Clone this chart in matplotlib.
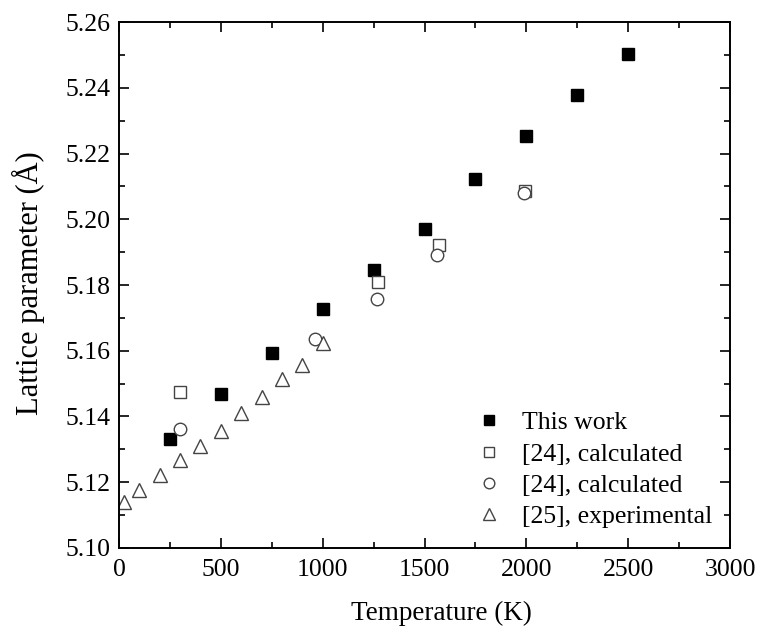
import matplotlib
matplotlib.use("Agg")
import matplotlib.pyplot as plt
from matplotlib.ticker import MultipleLocator, FormatStrFormatter

# ─── data ───────────────────────────────────────────────────────────────────
T_WORK = [250, 500, 750, 1000, 1250, 1500, 1750, 2000, 2250, 2500]
A_WORK = [5.1332, 5.1467, 5.1594, 5.1728, 5.1845, 5.1971, 5.2123, 5.2252, 5.2377, 5.2504]

T_CALC_SQ = [300, 1273, 1572, 1995]
A_CALC_SQ = [5.1475, 5.1809, 5.1921, 5.2085]

T_CALC_CI = [300, 962, 1265, 1563, 1990]
A_CALC_CI = [5.1363, 5.1636, 5.1758, 5.1892, 5.2080]

T_EXP = [25, 100, 200, 300, 400, 500, 600, 700, 800, 900, 1000]
A_EXP = [5.1139, 5.1175, 5.1223, 5.1267, 5.1311, 5.1355, 5.1411, 5.1460,
         5.1513, 5.1558, 5.1624]

LABELS = ["This work", "[24], calculated", "[24], calculated", "[25], experimental"]

plt.rcParams["font.family"] = ["Liberation Serif", "DejaVu Serif"]

fig = plt.figure(figsize=(7.61, 6.33), dpi=100)
ax = fig.add_axes([0.1564, 0.1343, 0.8029, 0.8309])

MS = 8.5
EDGE = "#444444"
ax.plot(T_WORK, A_WORK, ls="none", marker="s", ms=MS, color="black", label=LABELS[0])
ax.plot(T_CALC_SQ, A_CALC_SQ, ls="none", marker="s", ms=MS, mfc="white",
        mec=EDGE, mew=1.0, label=LABELS[1])
ax.plot(T_CALC_CI, A_CALC_CI, ls="none", marker="o", ms=MS + 0.5, mfc="white",
        mec=EDGE, mew=1.0, label=LABELS[2])
ax.plot(T_EXP, A_EXP, ls="none", marker="^", ms=MS + 2, mfc="white",
        mec=EDGE, mew=1.0, label=LABELS[3])

ax.set_xlim(0, 3000)
ax.set_ylim(5.10, 5.26)
ax.xaxis.set_major_locator(MultipleLocator(500))
ax.xaxis.set_minor_locator(MultipleLocator(250))
ax.yaxis.set_major_locator(MultipleLocator(0.02))
ax.yaxis.set_minor_locator(MultipleLocator(0.01))
ax.yaxis.set_major_formatter(FormatStrFormatter("%.2f"))
ax.tick_params(which="both", direction="in", top=True, right=True, labelsize=18.5,
               width=1.2)
ax.tick_params(which="major", length=7)
ax.tick_params(axis="x", which="major", pad=8)
ax.tick_params(axis="y", which="major", pad=6)
ax.tick_params(which="minor", length=4)
for s in ax.spines.values():
    s.set_linewidth(1.4)

ax.set_xlabel("Temperature (K)", fontsize=19.5)
ax.set_ylabel("Lattice parameter (Å)", fontsize=22)
# label positions, axes coords (x label sits a bit right of centre in the original)
ax.xaxis.set_label_coords(0.527, -0.101)
ax.yaxis.set_label_coords(-0.121, 0.503)

ax.legend(frameon=False, fontsize=18.5, loc="upper left",
          bbox_to_anchor=(0.5843, 0.2595), borderaxespad=0, borderpad=0,
          handlelength=1.0, handletextpad=0.79, labelspacing=0.32,
          markerscale=0.85)

fig.savefig("out.png", dpi=100)
